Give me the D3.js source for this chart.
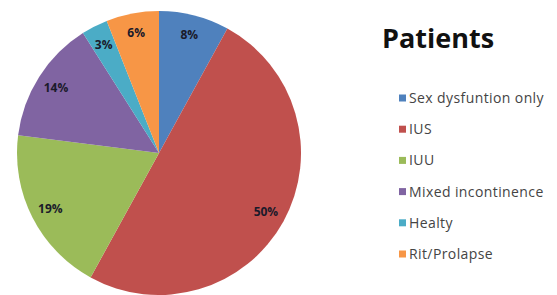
<!DOCTYPE html>
<html>
<head>
<meta charset="utf-8">
<script src="https://cdn.jsdelivr.net/npm/d3@7"></script>
<style>
  body { margin: 0; background: #fff; }
  svg { display: block; }
</style>
</head>
<body>
<svg id="chart" width="557" height="295"></svg>
<script>
const categories = ['Sex dysfuntion only', 'IUS', 'IUU', 'Mixed incontinence', 'Healty', 'Rit/Prolapse']
const values = [8, 50, 19, 14, 3, 6]
const colors = ['#4F81BD', '#C0504D', '#9BBB59', '#8064A2', '#4BACC6', '#F79646']
const title = 'Patients'

const svg = d3.select('#chart')
const cx = 159, cy = 153, radius = 142

const color = d3.scaleOrdinal().domain(categories).range(colors)

const pie = d3.pie().sort(null).value(d => d.value)
const data = pie(categories.map((c, i) => ({ name: c, value: values[i] })))

const arc = d3.arc().innerRadius(0).outerRadius(radius)
const labelArc = d3.arc().innerRadius(122).outerRadius(122)

const g = svg.append('g').attr('transform', `translate(${cx},${cy})`)

g.selectAll('.slice')
  .data(data)
  .enter()
  .append('path')
  .attr('class', 'slice')
  .attr('d', arc)
  .attr('fill', d => color(d.data.name))

// percentage labels near the rim
g.selectAll('.pct')
  .data(data)
  .enter()
  .append('text')
  .attr('class', 'pct')
  .attr('transform', d => `translate(${labelArc.centroid(d)})`)
  .attr('text-anchor', 'middle')
  .attr('dy', '0.35em')
  .style('font-family', 'Open Sans, sans-serif')
  .style('font-weight', 'bold')
  .style('font-size', '12px')
  .style('fill', '#1a1a2a')
  .text(d => d.data.value + '%')

svg.append('text')
  .attr('x', 382)
  .attr('y', 48)
  .style('font-family', 'Open Sans, sans-serif')
  .style('font-weight', 'bold')
  .style('font-size', '27px')
  .style('fill', '#111')
  .text(title)

const legend = svg.append('g').attr('transform', 'translate(399,98)')
const rows = legend.selectAll('.row')
  .data(categories)
  .enter()
  .append('g')
  .attr('class', 'row')
  .attr('transform', (d, i) => `translate(0,${i * 31.2})`)

rows.append('rect')
  .attr('x', 0)
  .attr('y', -3.5)
  .attr('width', 7)
  .attr('height', 7)
  .attr('fill', d => color(d))

rows.append('text')
  .attr('x', 10)
  .attr('dy', '0.35em')
  .style('font-family', 'Open Sans, sans-serif')
  .style('font-size', '14px')
  .style('letter-spacing', '0.4px')
  .style('fill', '#444')
  .text(d => d)
</script>
</body>
</html>
